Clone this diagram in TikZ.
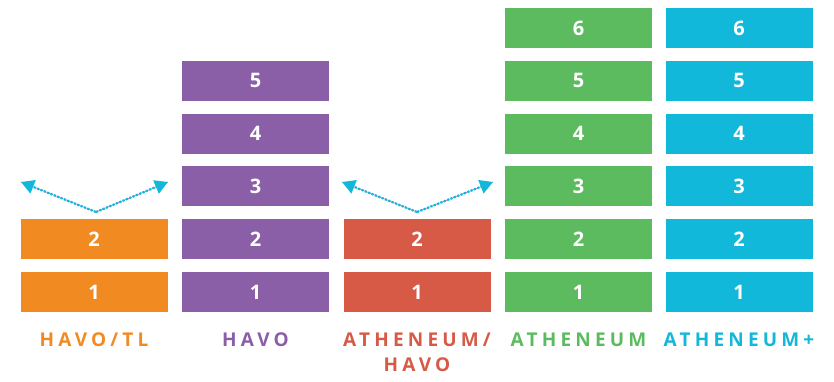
\documentclass[tikz,border=0pt]{standalone}
\usepackage{fontspec}
\setmainfont{Open Sans}
\newfontfamily\labelfont[LetterSpace=22]{Open Sans}
\usetikzlibrary{arrows.meta}
\definecolor{cOrange}{HTML}{F28A22}
\definecolor{cPurple}{HTML}{8B5EA8}
\definecolor{cRed}{HTML}{D65A45}
\definecolor{cGreen}{HTML}{5DBB5F}
\definecolor{cCyan}{HTML}{12B8D9}
\definecolor{cLine}{HTML}{B07CC6}
\tikzset{
  levelbox/.style={fill=#1, minimum width=147pt, minimum height=40pt, inner sep=0pt,
    text=white, font=\bfseries\fontsize{20}{20}\selectfont},
  streamlabel/.style={text=#1, font=\labelfont\bfseries\fontsize{19}{25}\selectfont, align=center, anchor=north},
  swaparrow/.style={cCyan, line width=2.2pt, dash pattern=on 2.2pt off 1.4pt,
    -{Triangle[width=14pt,length=13pt]}, shorten <=0pt},
  swapbase/.style={cLine, line width=0.6pt}
}
\begin{document}
\begin{tikzpicture}[x=1pt,y=-1pt]
\useasboundingbox (0,0) rectangle (834,381);
% columns: centre x, colour, number of levels
\foreach \cx/\col/\n/\name in {94/cOrange/2/a, 255.5/cPurple/5/b, 417/cRed/2/c, 578.5/cGreen/6/d, 739/cCyan/6/e}{
  \foreach \k in {1,...,\n}{
    \node[levelbox=\col] (\name\k) at (\cx,{292-(\k-1)*52.8}) {\k};
  }
}
% stream names
\node[streamlabel=cOrange] (la) at (94,329) {HAVO/TL};
\node[streamlabel=cPurple] (lb) at (255.5,329) {HAVO};
\node[streamlabel=cRed] (lc) at (417,329) {ATHENEUM/\\HAVO};
\node[streamlabel=cGreen] (ld) at (578.5,329) {ATHENEUM};
\node[streamlabel=cCyan] (le) at (739,329) {ATHENEUM+};
% transfer arrows above the two short columns
\coordinate (pa) at (96,212);
\coordinate (pal) at (21,182);
\coordinate (par) at (168,182);
\coordinate (pc) at (417,212);
\coordinate (pcl) at (342,182);
\coordinate (pcr) at (493,182);
\foreach \p/\q in {pa/pal, pa/par, pc/pcl, pc/pcr}{
  \draw[swapbase] (\p) -- (\q);
  \draw[swaparrow] (\p) -- (\q);
}
\end{tikzpicture}
\end{document}
